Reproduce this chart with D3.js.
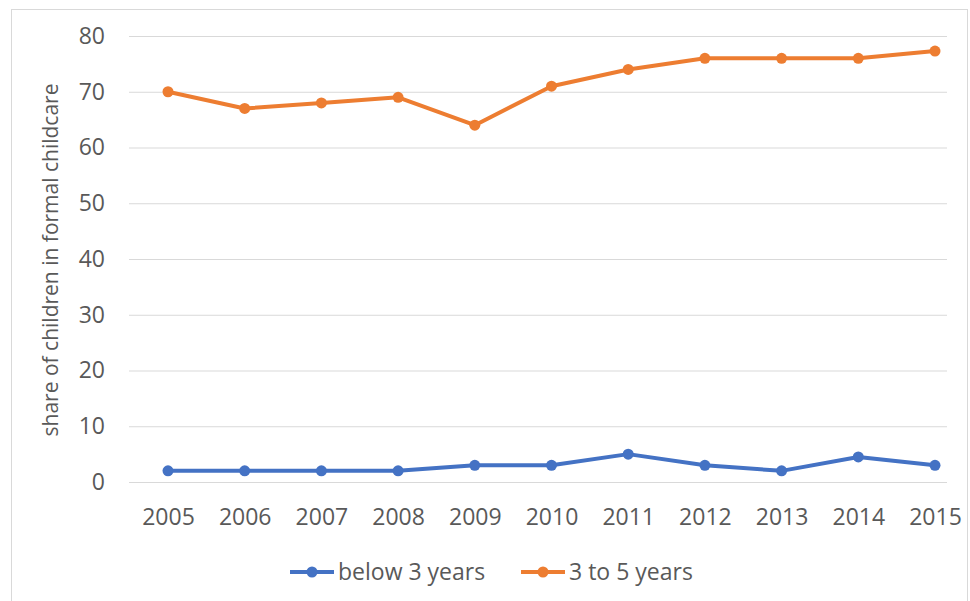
<!DOCTYPE html>
<html>
<head>
<meta charset="utf-8">
<script src="https://cdn.jsdelivr.net/npm/d3@7"></script>
<style>
  html, body { margin: 0; padding: 0; background: #fff; }
  svg { display: block; font-family: "Open Sans", "Liberation Sans", sans-serif; }
</style>
</head>
<body>
<svg width="970" height="601"></svg>
<script>
// chart data
const years = [2005, 2006, 2007, 2008, 2009, 2010, 2011, 2012, 2013, 2014, 2015];
const below3 = [2, 2, 2, 2, 3, 3, 5, 3, 2, 4.5, 3];
const from3to5 = [70, 67, 68, 69, 64, 71, 74, 76, 76, 76, 77.3];
const yTicks = [0, 10, 20, 30, 40, 50, 60, 70, 80];
const seriesNames = ["below 3 years", "3 to 5 years"];
const seriesColours = ["#4472C4", "#ED7D31"];

let svg = d3.select("svg"),
    width = +svg.attr("width"),
    height = +svg.attr("height");

// frame around the chart area
svg.append("rect")
    .attr("x", 11.5).attr("y", 9.5)
    .attr("width", 956).attr("height", 600)
    .attr("fill", "#fff")
    .attr("stroke", "#d9d9d9");

const gridLeft = 129, gridRight = 947;

let x = d3.scalePoint()
    .domain(years)
    .range([168, 935]);

let y = d3.scaleLinear()
    .domain([0, 80])
    .range([482, 36]);

// gridlines
svg.append("g")
    .selectAll("line")
    .data(yTicks)
    .join("line")
    .attr("x1", gridLeft).attr("x2", gridRight)
    .attr("y1", d => y(d) + 0.5).attr("y2", d => y(d) + 0.5)
    .attr("stroke", "#d9d9d9")
    .attr("stroke-width", 1);

// y axis labels
let yAxis = svg.append("g")
    .attr("transform", "translate(" + (gridLeft - 24) + ",0)")
    .call(d3.axisLeft(y).tickValues(yTicks).tickSize(0).tickPadding(0));
yAxis.select(".domain").remove();
yAxis.selectAll("text")
    .attr("font-size", 23)
    .attr("font-family", "Open Sans, Liberation Sans, sans-serif")
    .attr("fill", "#595959");

// x axis labels
let xAxis = svg.append("g")
    .attr("transform", "translate(0,517)")
    .call(d3.axisBottom(x).tickSize(0).tickPadding(0).tickFormat(d3.format("d")));
xAxis.select(".domain").remove();
xAxis.selectAll("text")
    .attr("y", 0)
    .attr("dy", "0.35em")
    .attr("font-size", 23)
    .attr("font-family", "Open Sans, Liberation Sans, sans-serif")
    .attr("fill", "#595959");

// axis title
svg.append("text")
    .attr("transform", "translate(51,260) rotate(-90)")
    .attr("text-anchor", "middle")
    .attr("dy", "0.35em")
    .attr("font-size", 21)
    .attr("fill", "#595959")
    .text("share of children in formal childcare");

// lines
const seriesData = [below3, from3to5];
let line = d3.line()
    .x((d, i) => x(years[i]))
    .y(d => y(d));

seriesData.forEach(function (vals, k) {
    svg.append("path")
        .datum(vals)
        .attr("fill", "none")
        .attr("stroke", seriesColours[k])
        .attr("stroke-width", 4)
        .attr("stroke-linejoin", "round")
        .attr("d", line);
    svg.append("g")
        .selectAll("circle")
        .data(vals)
        .join("circle")
        .attr("cx", (d, i) => x(years[i]))
        .attr("cy", d => y(d))
        .attr("r", 5.5)
        .attr("fill", seriesColours[k]);
});

// legend
const legendX = [290, 521];
let legend = svg.append("g")
    .selectAll("g")
    .data(seriesNames)
    .join("g")
    .attr("transform", (d, i) => "translate(" + legendX[i] + ",572)");

legend.append("line")
    .attr("x1", 0).attr("x2", 44)
    .attr("stroke", (d, i) => seriesColours[i])
    .attr("stroke-width", 4);
legend.append("circle")
    .attr("cx", 22).attr("r", 5.5)
    .attr("fill", (d, i) => seriesColours[i]);
legend.append("text")
    .attr("x", 48)
    .attr("dy", "0.35em")
    .attr("font-size", 23)
    .attr("fill", "#595959")
    .text(d => d);
</script>
</body>
</html>
